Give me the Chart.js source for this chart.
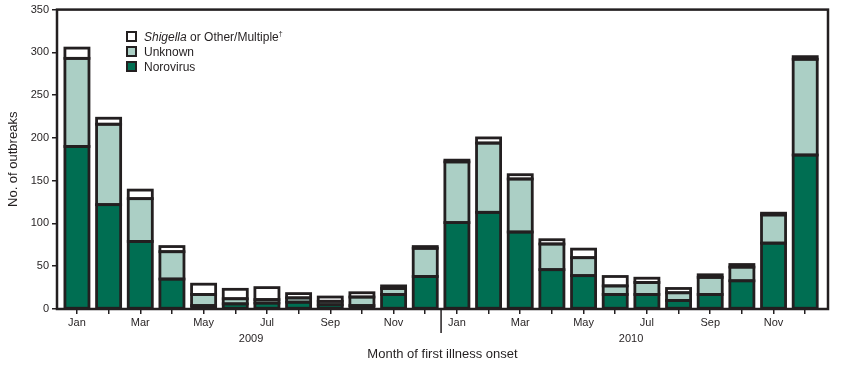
<!DOCTYPE html>
<html>
<head>
<meta charset="utf-8">
<script src="https://cdn.jsdelivr.net/npm/chart.js@4"></script>
<style>
  body { margin: 0; background: #fff; }
  #wrap { position: relative; width: 846px; height: 365px; }
  #legend { position: absolute; left: 126px; top: 30px; font-family: "Liberation Sans", sans-serif; font-size: 12px; color: #231f20; }
  #legend div { height: 15px; line-height: 15px; white-space: nowrap; }
  #legend span.box { display: inline-block; width: 7px; height: 7px; border: 2px solid #231f20; vertical-align: -1px; margin-right: 7px; }
  #legend sup { font-size: 7px; line-height: 0; }
</style>
</head>
<body>
<div id="wrap">
  <canvas id="chart" width="846" height="365"></canvas>
  <div id="legend">
    <div><span class="box" style="background:#ffffff"></span><i>Shigella</i> or Other/Multiple<sup>†</sup></div>
    <div><span class="box" style="background:#abcfc5"></span>Unknown</div>
    <div><span class="box" style="background:#006e52"></span>Norovirus</div>
  </div>
</div>
<script>
const months = ["Jan", "Feb", "Mar", "Apr", "May", "Jun", "Jul", "Aug", "Sep", "Oct", "Nov", "Dec",
                "Jan", "Feb", "Mar", "Apr", "May", "Jun", "Jul", "Aug", "Sep", "Oct", "Nov", "Dec"];
const years = ["2009", "2010"];
const norovirus = [190, 122, 79, 35, 4, 6, 7, 8, 5, 4, 17, 38,
                   101, 113, 90, 46, 39, 17, 17, 10, 17, 33, 77, 180];
const unknown = [103, 94, 50, 32, 13, 6, 4, 5, 4, 10, 7, 33,
                 71, 81, 62, 30, 21, 10, 14, 9, 20, 16, 33, 112];
const shigellaOther = [12, 7, 10, 6, 12, 11, 14, 5, 5, 5, 3, 2,
                       2, 6, 5, 5, 10, 11, 5, 5, 3, 3, 2, 3];

const ink = "#231f20";
const fontFamily = '"Liberation Sans", sans-serif';

// bars sit on month index 0..23 of a linear axis
const toPoints = (arr) => arr.map((v, i) => ({x: i, y: v}));

// outline every segment with a stroke centred on its edges (Chart.js insets borders,
// which doubles the line between stacked segments)
const outlines = {
  id: "outlines",
  afterDatasetsDraw(chart) {
    const ctx = chart.ctx;
    ctx.save();
    ctx.strokeStyle = ink;
    ctx.lineWidth = 2.8;
    ctx.lineJoin = "miter";
    chart.data.datasets.forEach((ds, i) => {
      chart.getDatasetMeta(i).data.forEach((bar) => {
        const {x, y, base, width} = bar.getProps(["x", "y", "base", "width"], true);
        ctx.strokeRect(x - width / 2, y, width, base - y);
      });
    });
    ctx.restore();
  }
};

// frame, year labels and the Dec/Jan divider
const extras = {
  id: "extras",
  afterDraw(chart) {
    const {ctx, chartArea: a, scales: {x}} = chart;
    ctx.save();
    ctx.strokeStyle = ink;
    ctx.lineWidth = 2.5;
    ctx.strokeRect(a.left, a.top, a.right - a.left, a.bottom - a.top);
    let mid = x.getPixelForValue(11.5);
    ctx.lineWidth = 1.5;
    ctx.beginPath();
    ctx.moveTo(mid, a.bottom);
    ctx.lineTo(mid, a.bottom + 24);
    ctx.stroke();
    ctx.fillStyle = ink;
    ctx.font = "11px " + fontFamily;
    ctx.textAlign = "center";
    ctx.textBaseline = "middle";
    years.forEach((yr, i) => {
      ctx.fillText(yr, x.getPixelForValue(i * 12 + 5.5), a.bottom + 30);
    });
    ctx.restore();
  }
};

const barStyle = {borderWidth: 0, barPercentage: 0.76, categoryPercentage: 1};

new Chart(document.getElementById("chart"), {
  type: "bar",
  data: {
    datasets: [
      Object.assign({label: "Norovirus", data: toPoints(norovirus), backgroundColor: "#006e52"}, barStyle),
      Object.assign({label: "Unknown", data: toPoints(unknown), backgroundColor: "#abcfc5"}, barStyle),
      Object.assign({label: "Shigella or Other/Multiple", data: toPoints(shigellaOther), backgroundColor: "#ffffff"}, barStyle)
    ]
  },
  plugins: [outlines, extras],
  options: {
    responsive: false,
    animation: false,
    layout: {padding: {top: 9, right: 18, left: 0, bottom: 0}},
    plugins: {legend: {display: false}, tooltip: {enabled: false}},
    scales: {
      x: {
        type: "linear",
        stacked: true,
        offset: false,
        min: -0.63, max: 23.72,
        grid: {drawOnChartArea: false, offset: false, color: ink, lineWidth: 1.5, tickLength: 5},
        border: {display: false},
        afterBuildTicks: (s) => { s.ticks = months.map((m, i) => ({value: i})); },
        ticks: {
          color: ink, font: {family: fontFamily, size: 11}, padding: 2,
          maxRotation: 0, autoSkip: false,
          callback: (v) => v % 2 === 0 ? months[v] : ""
        },
        title: {display: true, text: "Month of first illness onset", color: ink,
                font: {family: fontFamily, size: 13}, padding: {top: 0, bottom: 3}},
        afterFit: (s) => { s.height = 56; }
      },
      y: {
        stacked: true,
        min: 0, max: 350,
        grid: {drawOnChartArea: false, color: ink, lineWidth: 1.5, tickLength: 5},
        border: {display: false},
        ticks: {stepSize: 50, color: ink, font: {family: fontFamily, size: 11}, padding: 3},
        title: {display: true, text: "No. of outbreaks", color: ink,
                font: {family: fontFamily, size: 13}, padding: {top: 6, bottom: 0}},
        afterFit: (s) => { s.width = 57; }
      }
    }
  }
});
</script>
</body>
</html>
